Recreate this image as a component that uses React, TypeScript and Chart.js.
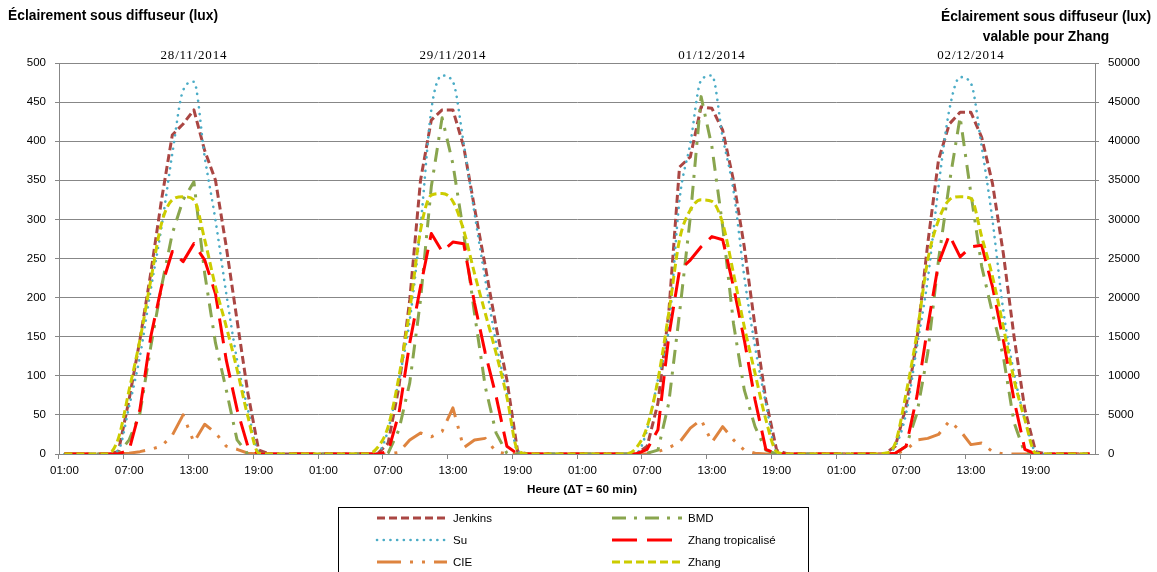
import React, { useEffect, useRef } from "react";
import { Chart, registerables } from "chart.js";

Chart.register(...registerables);

const dayHours = [
  "01:00", "02:00", "03:00", "04:00", "05:00", "06:00", "07:00", "08:00",
  "09:00", "10:00", "11:00", "12:00", "13:00", "14:00", "15:00", "16:00",
  "17:00", "18:00", "19:00", "20:00", "21:00", "22:00", "23:00", "00:00",
];
const hourLabels = [...dayHours, ...dayHours, ...dayHours, ...dayHours];
const dayTitles = ["28/11/2014", "29/11/2014", "01/12/2014", "02/12/2014"];
const dayTitleIndex = [12, 36, 60, 84];

const jenkins = [
  0, 0, 0, 0, 0, 3, 70, 146, 231, 325, 408, 422, 440, 388, 350, 265, 171, 78, 5, 0, 0, 0, 0, 0,
  0, 0, 0, 0, 0, 0, 14, 86, 197, 350, 427, 440, 440, 393, 315, 240, 163, 95, 3, 0, 0, 0, 0, 0,
  0, 0, 0, 0, 0, 0, 10, 65, 180, 367, 380, 444, 442, 414, 350, 265, 163, 69, 5, 0, 0, 0, 0, 0,
  0, 0, 0, 0, 0, 10, 61, 146, 269, 376, 422, 437, 437, 405, 346, 257, 150, 57, 3, 0, 0, 0, 0, 0,
];
const su = [
  0, 0, 0, 0, 0, 5, 61, 125, 210, 290, 384, 465, 476, 380, 299, 205, 120, 57, 3, 0, 0, 0, 0, 0,
  0, 0, 0, 0, 0, 1, 31, 95, 171, 291, 440, 484, 476, 397, 308, 223, 142, 78, 3, 0, 0, 0, 0, 0,
  0, 0, 0, 0, 0, 1, 31, 95, 160, 325, 397, 478, 484, 405, 337, 227, 137, 65, 3, 0, 0, 0, 0, 0,
  0, 0, 0, 0, 0, 10, 52, 137, 223, 342, 440, 482, 474, 393, 299, 184, 103, 44, 3, 0, 0, 0, 0, 0,
];
const cie = [
  0, 0, 0, 0, 0, 0, 1, 3, 6, 10, 24, 50, 15, 38, 27, 10, 6, 1, 0, 0, 0, 0, 0, 0,
  0, 0, 0, 0, 0, 0, 0, 2, 18, 27, 22, 29, 59, 8, 18, 20, 3, 0, 0, 0, 0, 0, 0, 0,
  0, 0, 0, 0, 0, 0, 0, 3, 8, 15, 33, 44, 15, 35, 18, 5, 1, 0, 0, 0, 0, 0, 0, 0,
  0, 0, 0, 0, 0, 0, 5, 18, 20, 25, 42, 30, 12, 14, 3, 0, 0, 0, 0, 0, 0, 0, 0, 0,
];
const bmd = [
  0, 0, 0, 0, 0, 0, 18, 52, 137, 214, 282, 325, 348, 231, 142, 82, 18, 0, 0, 0, 0, 0, 0, 0,
  0, 0, 0, 0, 0, 0, 1, 31, 91, 197, 342, 430, 371, 282, 180, 86, 27, 1, 0, 0, 0, 0, 0, 0,
  0, 0, 0, 0, 0, 0, 1, 5, 65, 180, 303, 457, 393, 291, 167, 82, 35, 5, 0, 0, 0, 0, 0, 0,
  0, 0, 0, 0, 0, 1, 10, 52, 129, 248, 346, 431, 333, 240, 180, 125, 40, 1, 0, 0, 0, 0, 0, 0,
];
const zhangTropicalise = [
  0, 0, 0, 0, 0, 0, 5, 57, 150, 214, 259, 246, 269, 248, 205, 120, 57, 10, 0, 0, 0, 0, 0, 0,
  0, 0, 0, 0, 0, 0, 3, 52, 142, 214, 282, 259, 271, 269, 193, 129, 74, 10, 0, 0, 0, 0, 0, 0,
  0, 0, 0, 0, 0, 0, 6, 31, 150, 235, 248, 265, 278, 274, 214, 146, 69, 6, 0, 0, 0, 0, 0, 0,
  0, 0, 0, 0, 0, 1, 10, 74, 163, 244, 280, 252, 265, 267, 214, 146, 69, 6, 0, 0, 0, 0, 0, 0,
];
const zhang = [
  0, 0, 0, 0, 0, 2000, 8200, 14600, 22200, 29500, 32500, 32900, 32500, 27400, 21400, 16300, 10800, 4800, 100, 0, 0, 0, 0, 0,
  0, 0, 0, 0, 0, 800, 3500, 9900, 18400, 28600, 33100, 33300, 32300, 28600, 23100, 18000, 12900, 7300, 500, 0, 0, 0, 0, 0,
  0, 0, 0, 0, 0, 800, 3500, 9500, 18000, 27400, 31200, 32500, 32300, 29500, 23100, 16300, 10300, 4400, 300, 0, 0, 0, 0, 0,
  0, 0, 0, 0, 100, 1400, 7800, 15400, 24800, 29900, 32500, 32900, 32700, 27800, 22700, 16300, 9500, 4400, 100, 0, 0, 0, 0, 0,
];

const GRID = "#878787";
const SANS = "'Liberation Sans', Arial, sans-serif";

type Style = { color: string; width: number; dash: number[]; cap: CanvasLineCap };
const styles: Record<string, Style> = {
  Jenkins: { color: "#AA4643", width: 3, dash: [8, 4], cap: "butt" },
  Su: { color: "#4BACC6", width: 2.6, dash: [0.1, 6.6], cap: "round" },
  CIE: { color: "#DE843F", width: 3, dash: [24, 9, 3, 9, 3, 9], cap: "butt" },
  BMD: { color: "#89A54E", width: 3, dash: [14, 8, 3, 8], cap: "butt" },
  "Zhang tropicalisé": { color: "#FF0000", width: 3, dash: [25, 10], cap: "butt" },
  Zhang: { color: "#CCCC00", width: 3, dash: [8, 4], cap: "butt" },
};

const legendOrder = ["Jenkins", "BMD", "Su", "Zhang tropicalisé", "CIE", "Zhang"];

function ds(label: string, data: number[], order: number, axis: string, smooth: boolean) {
  const s = styles[label];
  return {
    label,
    data,
    yAxisID: axis,
    order,
    borderColor: s.color,
    backgroundColor: s.color,
    borderWidth: s.width,
    borderDash: s.dash,
    borderCapStyle: s.cap,
    borderJoinStyle: "round" as CanvasLineJoin,
    pointRadius: 0,
    pointHoverRadius: 0,
    fill: false,
    tension: 0,
    cubicInterpolationMode: smooth ? ("monotone" as const) : ("default" as const),
  };
}

const decorPlugin = {
  id: "decor",
  afterDraw(chart: any) {
    const ctx: CanvasRenderingContext2D = chart.ctx;
    const xs = chart.scales.x;
    ctx.save();
    ctx.fillStyle = "#000";
    ctx.font = `bold 13.8px ${SANS}`;
    ctx.textBaseline = "middle";
    ctx.textAlign = "left";
    ctx.fillText("Éclairement sous diffuseur (lux)", 8, 16);
    ctx.textAlign = "center";
    ctx.fillText("Éclairement sous diffuseur (lux)", 1046, 17);
    ctx.fillText("valable pour Zhang", 1046, 37);
    ctx.font = `bold 11.7px ${SANS}`;
    ctx.fillText("Heure (\u0394T = 60 min)", 582, 490);
    ctx.font = "13px 'Liberation Serif', 'Times New Roman', serif";
    (ctx as any).letterSpacing = "0.8px";
    dayTitles.forEach((t, i) => {
      const x = xs.getPixelForValue(dayTitleIndex[i]);
      ctx.fillText(t, x, 56);
    });
    (ctx as any).letterSpacing = "0px";
    ctx.strokeStyle = "#000";
    ctx.lineWidth = 1;
    ctx.setLineDash([]);
    ctx.strokeRect(338.5, 507.5, 470, 90);
    ctx.font = `11.5px ${SANS}`;
    ctx.textAlign = "left";
    legendOrder.forEach((name, k) => {
      const col = k % 2;
      const row = Math.floor(k / 2);
      const x0 = col === 0 ? 377 : 612;
      const y = 518 + row * 22;
      const s = styles[name];
      ctx.save();
      ctx.strokeStyle = s.color;
      ctx.lineWidth = s.width;
      ctx.lineCap = s.cap;
      ctx.setLineDash(s.dash);
      ctx.beginPath();
      ctx.moveTo(x0, y);
      ctx.lineTo(x0 + 70, y);
      ctx.stroke();
      ctx.restore();
      ctx.fillStyle = "#000";
      ctx.fillText(name, x0 + 76, y + 0.5);
    });
    ctx.restore();
  },
};

export default function App() {
  const ref = useRef<HTMLCanvasElement | null>(null);
  useEffect(() => {
    if (!ref.current) return;
    const tickFont = { family: SANS, size: 11.5 };
    const chart = new Chart(ref.current, {
      type: "line",
      data: {
        labels: hourLabels,
        datasets: [
          ds("Jenkins", jenkins, 5, "y", false),
          ds("Su", su, 4, "y", true),
          ds("CIE", cie, 3, "y", false),
          ds("BMD", bmd, 2, "y", false),
          ds("Zhang tropicalisé", zhangTropicalise, 1, "y", false),
          ds("Zhang", zhang, 0, "y1", true),
        ] as any,
      },
      options: {
        responsive: false,
        animation: false,
        events: [],
        layout: { padding: { top: 63, left: 0, right: 0, bottom: 0 } },
        plugins: {
          legend: { display: false },
          title: { display: false },
          tooltip: { enabled: false },
        },
        scales: {
          x: {
            type: "category",
            offset: true,
            grid: {
              offset: true,
              drawOnChartArea: false,
              drawTicks: true,
              tickLength: 5,
              color: (c: any) => (typeof c.index === "number" && c.index % 6 === 0 ? GRID : "rgba(0,0,0,0)"),
            },
            border: { color: GRID, width: 1 },
            ticks: {
              autoSkip: false,
              maxRotation: 0,
              minRotation: 0,
              padding: 5,
              color: "#000",
              font: tickFont,
              callback: (_v: any, i: number) => (i % 6 === 0 ? hourLabels[i] : ""),
            },
            afterFit: (s: any) => {
              s.height = 118;
            },
          },
          y: {
            position: "left",
            min: 0,
            max: 500,
            grid: { color: GRID, lineWidth: 1, drawTicks: true, tickLength: 4 },
            border: { color: GRID, width: 1 },
            ticks: { stepSize: 50, padding: 9, color: "#000", font: tickFont, callback: (v: any) => String(v) },
            afterFit: (s: any) => {
              s.width = 59;
            },
          },
          y1: {
            position: "right",
            min: 0,
            max: 50000,
            grid: { drawOnChartArea: false, color: GRID, drawTicks: true, tickLength: 4 },
            border: { color: GRID, width: 1 },
            ticks: { stepSize: 5000, padding: 9, color: "#000", font: tickFont, callback: (v: any) => String(v) },
            afterFit: (s: any) => {
              s.width = 62;
            },
          },
        },
      } as any,
      plugins: [decorPlugin],
    });
    return () => chart.destroy();
  }, []);
  return (
    <div style={{ position: "absolute", left: 0, top: 0, width: 1157, height: 572, background: "#fff" }}>
      <canvas ref={ref} width={1157} height={572} style={{ display: "block" }} />
    </div>
  );
}
